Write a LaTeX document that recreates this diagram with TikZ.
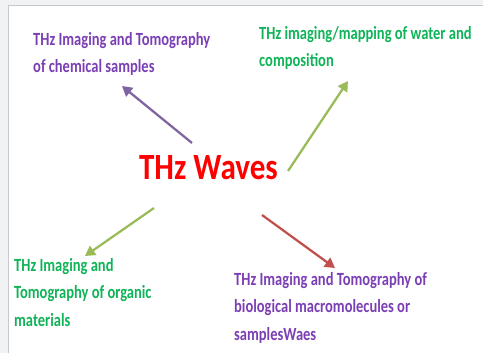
\documentclass[tikz,border=0pt]{standalone}
\usepackage{fontspec}
\setmainfont{Carlito}[FakeStretch=0.78]
\newfontfamily\wavesfont{Carlito}[FakeStretch=0.84]
\usetikzlibrary{arrows.meta}
\definecolor{thzred}{HTML}{FF0000}
\definecolor{lblpurple}{HTML}{7B3FB5}
\definecolor{lblgreen}{HTML}{10B458}
\definecolor{arrpurple}{HTML}{8064A2}
\definecolor{arrgreen}{HTML}{9BBB59}
\definecolor{arrred}{HTML}{C0504D}
\definecolor{pagegray}{HTML}{F1F2F4}
\definecolor{framegray}{HTML}{C8C9CC}
\tikzset{
  thzlabel/.style={anchor=north west, align=left, inner sep=0pt, font=\fontsize{18.6}{27.5}\selectfont\bfseries},
  thzcentre/.style={anchor=base, inner sep=0pt, text=thzred, font=\wavesfont\fontsize{37}{40}\selectfont\bfseries},
  thzarrow/.style={-{Triangle[length=10pt,width=11pt]}, line width=2.25pt}
}

\begin{document}
\begin{tikzpicture}[x=1pt, y=-1pt]
\useasboundingbox (0,0) rectangle (483,353);
% page and slide frame
\fill[pagegray] (0,0) rectangle (483,353);
\fill[white] (8,6) rectangle (483,353);
\draw[framegray, line width=1pt] (8,353) -- (8,6) -- (483,6);

\node[thzcentre] (waves) at (208.5,179) {THz Waves};

\node[thzlabel, text=lblpurple] (chem) at (33,32) {THz Imaging and Tomography\\of chemical samples};
\node[thzlabel, text=lblgreen] (water) at (259,26) {THz imaging/mapping of water and\\composition};
\node[thzlabel, text=lblgreen] (organic) at (14,258) {THz Imaging and\\Tomography of organic\\materials};
\node[thzlabel, text=lblpurple] (bio) at (234,272) {THz Imaging and Tomography of\\biological macromolecules or\\samplesWaes};

% arrow ends
\coordinate (chemtip) at (122,86);
\coordinate (watertip) at (348,81);
\coordinate (organictip) at (85,256);
\coordinate (biotip) at (335,268);
\coordinate (chemtail) at (192,143);
\coordinate (watertail) at (288,171);
\coordinate (organictail) at (154,208);
\coordinate (biotail) at (262,215);

\draw[thzarrow, arrpurple] (chemtail) -- (chemtip);
\draw[thzarrow, arrgreen] (watertail) -- (watertip);
\draw[thzarrow, arrgreen] (organictail) -- (organictip);
\draw[thzarrow, arrred] (biotail) -- (biotip);
\end{tikzpicture}
\end{document}
